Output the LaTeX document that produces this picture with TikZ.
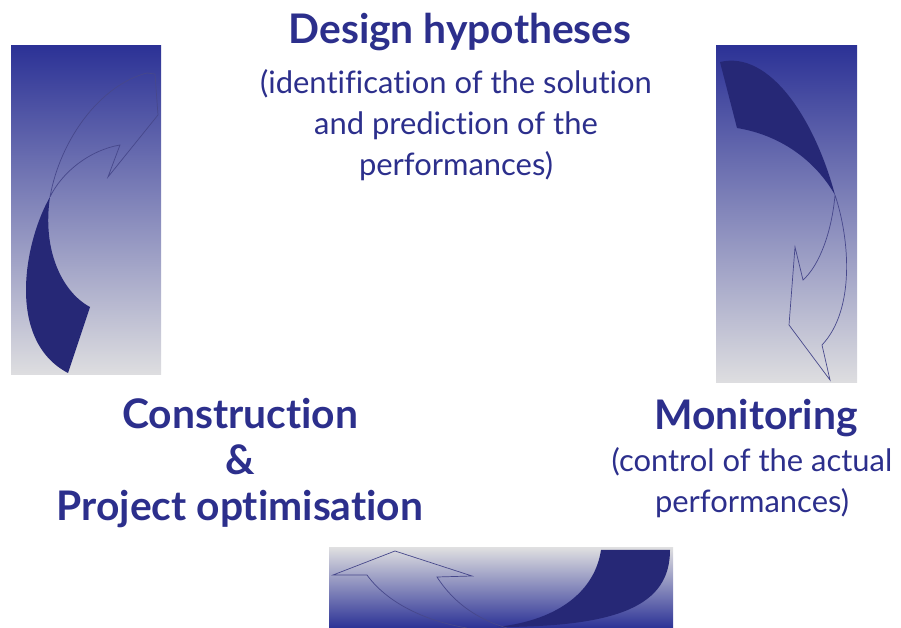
\documentclass[tikz,border=0pt]{standalone}
\usepackage{fontspec}
\setmainfont{Lato}[Ligatures=NoCommon]
\usetikzlibrary{positioning}

\definecolor{ink}{RGB}{44,47,140}
\definecolor{deep}{RGB}{38,40,118}
\definecolor{panelblue}{RGB}{44,50,150}
\definecolor{panelmid}{RGB}{150,150,192}
\definecolor{panelgrey}{RGB}{222,222,224}

\begin{document}
\begin{tikzpicture}
		[x=0.025cm, y=-0.025cm,
		title/.style={text=ink, font=\bfseries\fontsize{29}{33}\selectfont, align=center, inner sep=0pt},
		note/.style={text=ink, font=\fontsize{22}{29}\selectfont, align=center, inner sep=0pt},
		solid arrow/.style={fill=deep, draw=none},
		open arrow/.style={draw=deep!85, line width=0.5pt, line join=miter}]
		\useasboundingbox (0,0) rectangle (901,628);

		% shaded panels
		\shade[top color=panelblue, middle color=panelmid, bottom color=panelgrey] (11,46) rectangle (161,375);
		\shade[top color=panelblue, middle color=panelmid, bottom color=panelgrey] (716,46) rectangle (857,383);
		\shade[top color=panelgrey, middle color=panelgrey!60!panelmid, bottom color=panelblue] (329,548) rectangle (673,628);

		% left panel: turning up
		\fill[solid arrow] (50,197) .. controls (25,240) and (5,340) .. (68,373)
			-- (90,307) .. controls (62,292) and (42,250) .. (50,197) -- cycle;
		\draw[open arrow] (50,197) .. controls (60,140) and (100,85) .. (147,73)
			-- (155,74) -- (158,115) -- (108,177) -- (120,145)
			.. controls (90,150) and (62,172) .. (50,197);

		% right panel: turning down
		\fill[solid arrow] (720,62) .. controls (770,50) and (815,120) .. (835,195)
			.. controls (815,160) and (780,135) .. (737,128) -- cycle;
		\draw[open arrow] (835,195) .. controls (850,240) and (855,310) .. (822,345)
			-- (830,380) -- (789,325) -- (795,247) -- (803,280)
			.. controls (820,265) and (832,230) .. (835,195);

		% bottom panel: turning left
		\fill[solid arrow] (601,550) -- (670,550) .. controls (670,605) and (620,627) .. (497,627)
			.. controls (560,620) and (595,590) .. (601,550) -- cycle;
		\draw[open arrow] (467,628) .. controls (420,620) and (385,600) .. (367,575)
			-- (333,575) -- (395,551) -- (472,576) -- (437,577)
			.. controls (455,605) and (480,620) .. (507,628);

		% stage labels
		\node[title] (design) at (460,32) {Design hypotheses};
		\node[note] (designnote) at (456,125) {(identification of the solution\\and prediction of the\\performances)};
		\node[title] (monitoring) at (756,418) {Monitoring};
		\node[note] (monitoringnote) at (752,483) {(control of the actual\\performances)};
		\node[title] (construction) at (240,463) {Construction\\\&\\Project optimisation};
	\end{tikzpicture}
\end{document}
